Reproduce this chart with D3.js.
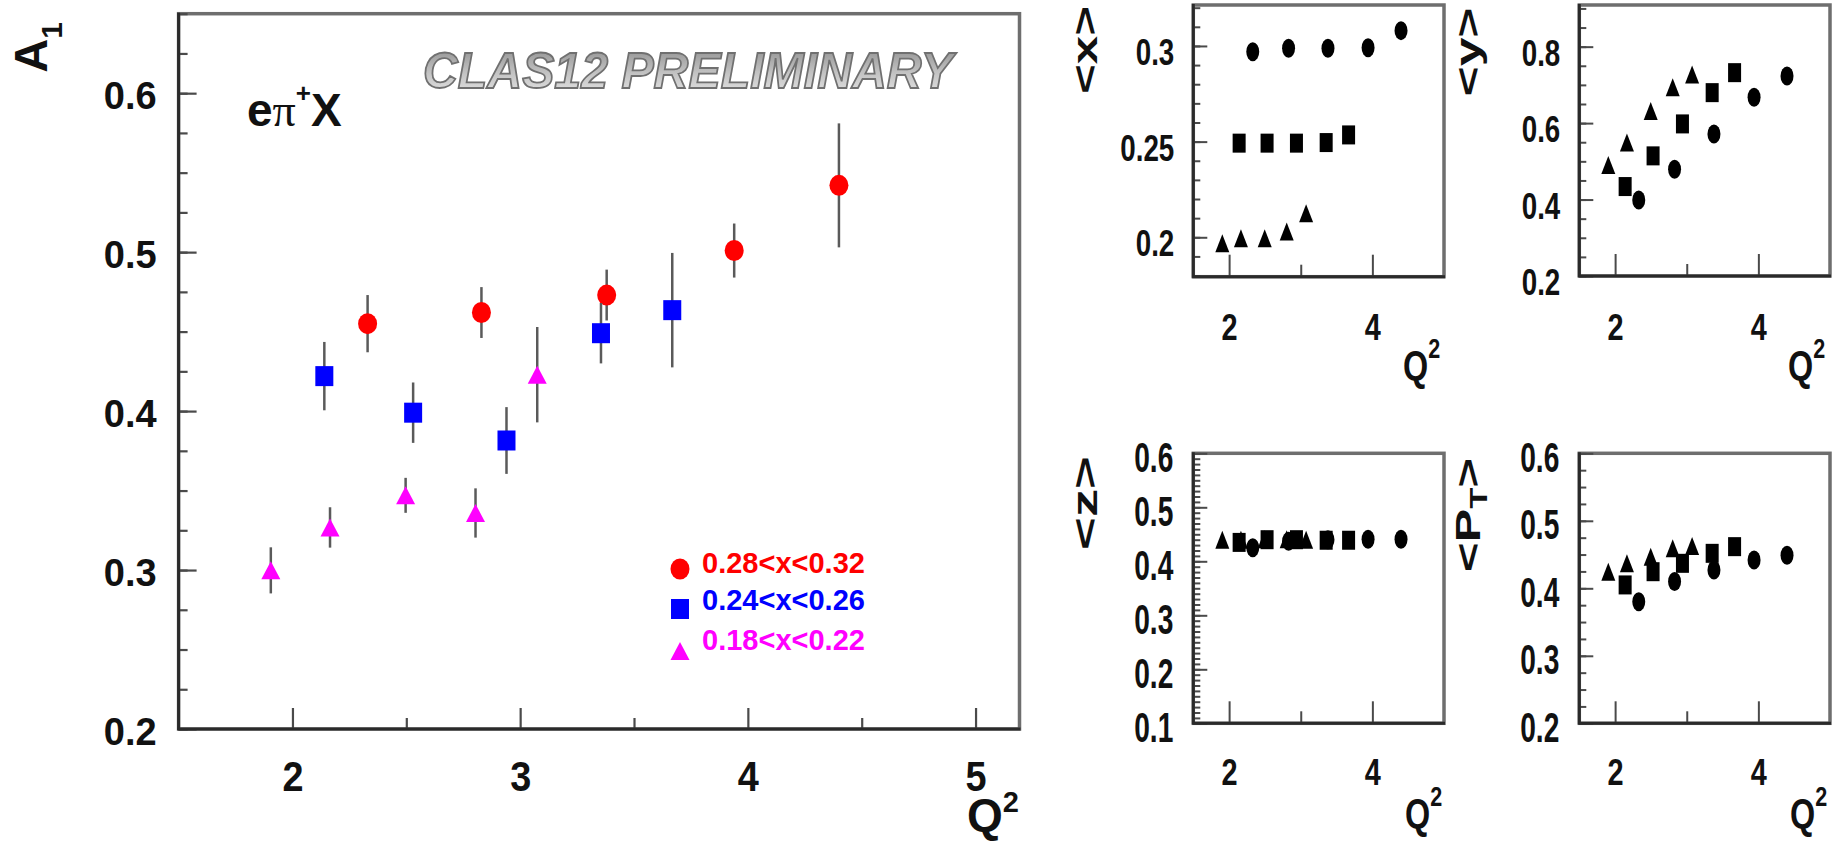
<!DOCTYPE html>
<html><head><meta charset="utf-8">
<script src="https://cdn.jsdelivr.net/npm/d3@7"></script>
<style>html,body{margin:0;padding:0;background:#fff;overflow:hidden}svg{display:block}</style>
</head><body><div id="chart"></div>
<script>
// ---------------- data ----------------
const binLabels = ["0.28<x<0.32", "0.24<x<0.26", "0.18<x<0.22"];
const binColors = ["#ff0000", "#0000ff", "#ff00ff"];
const binShapes = ["circle", "square", "triangle"];

const q2Hi  = [2.33, 2.83, 3.38, 3.94, 4.40];
const q2Mid = [2.14, 2.53, 2.94, 3.355, 3.668];
const q2Lo  = [1.905, 2.165, 2.497, 2.804, 3.075];

const a1Hi     = [0.455, 0.462, 0.473, 0.501, 0.542];
const a1HiErr  = [0.018, 0.016, 0.016, 0.017, 0.039];
const a1Mid    = [0.422, 0.399, 0.3815, 0.449, 0.4635];
const a1MidErr = [0.0215, 0.019, 0.021, 0.019, 0.036];
const a1Lo     = [0.2998, 0.3268, 0.347, 0.3359, 0.4229];
const a1LoErr  = [0.0145, 0.0127, 0.011, 0.0155, 0.030];

const meanXHi  = [0.297, 0.2988, 0.2988, 0.2991, 0.308];
const meanXMid = [0.2492, 0.2492, 0.2492, 0.2495, 0.2535];
const meanXLo  = [0.1969, 0.1995, 0.1995, 0.203, 0.2126];

const meanYHi  = [0.399, 0.4795, 0.5717, 0.6677, 0.7234];
const meanYMid = [0.434, 0.5143, 0.5979, 0.6797, 0.732];
const meanYLo  = [0.4907, 0.549, 0.632, 0.694, 0.727];

const meanZHi  = [0.425, 0.437, 0.440, 0.441, 0.441];
const meanZMid = [0.435, 0.440, 0.440, 0.439, 0.439];
const meanZLo  = [0.440, 0.440, 0.441, 0.441, 0.440];

const meanPtHi  = [0.380, 0.410, 0.427, 0.442, 0.449];
const meanPtMid = [0.405, 0.4246, 0.437, 0.4518, 0.4617];
const meanPtLo  = [0.4246, 0.437, 0.4468, 0.4593, 0.4627];

// tick labels
const mainXTicks = [2, 3, 4, 5];
const mainXMinor = [2.5, 3.5, 4.5];
const mainYTicks = [0.2, 0.3, 0.4, 0.5, 0.6];
const smallXTicks = [2, 4];
const smallXMinor = [3];
const xPanelTicks = [0.2, 0.25, 0.3];
const yPanelTicks = [0.2, 0.4, 0.6, 0.8];
const zPanelTicks = [0.1, 0.2, 0.3, 0.4, 0.5, 0.6];
const ptPanelTicks = [0.2, 0.3, 0.4, 0.5, 0.6];

// ---------------- drawing ----------------
const W = 1843, H = 841;
const FONT = "'Liberation Sans', Arial, Helvetica, sans-serif";
const svg = d3.select("#chart").append("svg").attr("width", W).attr("height", H);
svg.append("rect").attr("width", W).attr("height", H).attr("fill", "#fff");

const defs = svg.append("defs");
const grad = defs.append("linearGradient").attr("id", "prelim").attr("x1", 0).attr("y1", 0).attr("x2", 0).attr("y2", 1);
grad.append("stop").attr("offset", "0%").attr("stop-color", "#8a8a8a");
grad.append("stop").attr("offset", "55%").attr("stop-color", "#c4c4c4");
grad.append("stop").attr("offset", "100%").attr("stop-color", "#e8e8e8");

function minorRange(a, b, step) {
  const n = Math.round((b - a) / step);
  return d3.range(n + 1).map(i => +(a + i * step).toFixed(5));
}

function squeeze(sel, f) {
  sel.each(function () {
    const w = this.getComputedTextLength();
    d3.select(this).attr("textLength", w * f).attr("lengthAdjust", "spacingAndGlyphs");
  });
}

function panel(o) {
  const x = d3.scaleLinear().domain(o.xDom).range([o.l, o.r]);
  const y = d3.scaleLinear().domain(o.yDom).range([o.b, o.t]);
  svg.append("rect").attr("x", o.l).attr("y", o.t).attr("width", o.r - o.l).attr("height", o.b - o.t)
    .attr("fill", "none").attr("stroke", "#6e6e6e").attr("stroke-width", o.frameW);

  const gyMin = svg.append("g").attr("transform", `translate(${o.l},0)`)
    .call(d3.axisLeft(y).tickValues(o.yMinor).tickSize(-o.yMinLen).tickFormat(""));
  const gy = svg.append("g").attr("transform", `translate(${o.l},0)`)
    .call(d3.axisLeft(y).tickValues(o.yMajor).tickSize(-o.yMajLen).tickPadding(o.yPad).tickFormat(d => String(d)));
  const gxMin = svg.append("g").attr("transform", `translate(0,${o.b})`)
    .call(d3.axisBottom(x).tickValues(o.xMinor).tickSize(-o.xMinLen).tickFormat(""));
  const gx = svg.append("g").attr("transform", `translate(0,${o.b})`)
    .call(d3.axisBottom(x).tickValues(o.xMajor).tickSize(-o.xMajLen).tickFormat(d => String(d)));

  [gyMin, gy, gxMin, gx].forEach(g => {
    g.select(".domain").remove();
    g.selectAll(".tick line").attr("stroke", "#4a4a4a").attr("stroke-width", o.tickW);
  });
  const yt = gy.selectAll(".tick text").attr("font-family", FONT).attr("font-weight", "bold")
    .attr("font-size", o.yFont).attr("fill", "#111").attr("dy", o.yDy);
  const xt = gx.selectAll(".tick text").attr("font-family", FONT).attr("font-weight", "bold")
    .attr("font-size", o.xFont).attr("fill", "#111").attr("y", o.xOff).attr("dy", 0);
  if (o.sq) squeeze(yt, o.sq);
  if (o.xSq) squeeze(xt, o.xSq);

  svg.append("line").attr("x1", o.l).attr("x2", o.l).attr("y1", o.t - 1).attr("y2", o.b + 1)
    .attr("stroke", "#2a2a2a").attr("stroke-width", o.axisW);
  svg.append("line").attr("x1", o.l - 1).attr("x2", o.r + 1).attr("y1", o.b).attr("y2", o.b)
    .attr("stroke", "#2a2a2a").attr("stroke-width", o.axisW);
  return { x, y };
}

function marker(g, shape, cx, cy, w, h, color) {
  if (shape === "circle") {
    g.append("ellipse").attr("cx", cx).attr("cy", cy).attr("rx", w / 2).attr("ry", h / 2).attr("fill", color);
  } else if (shape === "square") {
    g.append("rect").attr("x", cx - w / 2).attr("y", cy - h / 2).attr("width", w).attr("height", h).attr("fill", color);
  } else {
    g.append("path").attr("d", `M${cx},${cy - h / 2}L${cx + w / 2},${cy + h / 2}L${cx - w / 2},${cy + h / 2}Z`).attr("fill", color);
  }
}

function series(sc, q2, vals, shape, color, size, errs) {
  const g = svg.append("g");
  if (errs) {
    g.selectAll("line.err").data(q2).enter().append("line")
      .attr("x1", (d) => sc.x(d)).attr("x2", (d) => sc.x(d))
      .attr("y1", (d, i) => sc.y(vals[i] - errs[i])).attr("y2", (d, i) => sc.y(vals[i] + errs[i]))
      .attr("stroke", "#5a5a5a").attr("stroke-width", 2.5);
  }
  q2.forEach((d, i) => marker(g, shape, sc.x(d), sc.y(vals[i]), size[0], size[1], color));
}

// Q^2 label as a single text (Q + superscript 2)
function q2Label(x, y, qSize, sSize, dy, sx) {
  const t = svg.append("text").attr("transform", `translate(${x},${y}) scale(${sx},1)`)
    .attr("font-family", FONT).attr("font-weight", "bold").attr("fill", "#111");
  t.append("tspan").attr("font-size", qSize).text("Q");
  t.append("tspan").attr("font-size", sSize).attr("dy", dy).text("2");
}

// ---------- main plot ----------
const main = panel({
  l: 178.6, r: 1019.5, t: 13.7, b: 729,
  xDom: [1.5, 5.193], yDom: [0.2, 0.65],
  yMajor: mainYTicks, yMinor: minorRange(0.2, 0.65, 0.025),
  xMajor: mainXTicks, xMinor: mainXMinor,
  yMajLen: 18, yMinLen: 9, xMajLen: 21, xMinLen: 11,
  yPad: 22, yFont: 38, yDy: "0.4em", xFont: 42, xOff: 62, xSq: 0.9,
  frameW: 3.5, axisW: 3, tickW: 2.2
});
const mainSizes = { circle: [19, 21], square: [18, 20], triangle: [19, 18] };
const mainQ = [q2Hi, q2Mid, q2Lo], mainA = [a1Hi, a1Mid, a1Lo], mainE = [a1HiErr, a1MidErr, a1LoErr];
[0, 1, 2].forEach(k => series(main, mainQ[k], mainA[k], binShapes[k], binColors[k], mainSizes[binShapes[k]], mainE[k]));

// A1 label
const a1 = svg.append("text").attr("transform", "translate(47,22) rotate(-90)").attr("text-anchor", "end")
  .attr("font-family", FONT).attr("font-weight", "bold").attr("fill", "#111");
a1.append("tspan").attr("font-size", 47).text("A");
a1.append("tspan").attr("font-size", 30).attr("dy", 15).text("1");

// Q2 label main
q2Label(967, 831, 46, 29, -19, 1);

// e pi+ X
const epi = svg.append("text").attr("x", 247).attr("y", 126).attr("font-family", FONT).attr("font-weight", "bold")
  .attr("font-size", 46).attr("fill", "#111");
epi.append("tspan").text("e");
epi.append("tspan").attr("font-family", "'Liberation Serif', 'Times New Roman', serif").attr("font-weight", "normal").text("π");
epi.append("tspan").attr("font-size", 26).attr("dy", -24).text("+");
epi.append("tspan").attr("dy", 24).text("X");

// CLAS12 PRELIMINARY
svg.append("text").attr("x", 423).attr("y", 88).attr("font-family", FONT).attr("font-weight", "bold")
  .attr("font-style", "italic").attr("font-size", 50).attr("textLength", 530).attr("lengthAdjust", "spacingAndGlyphs")
  .attr("fill", "url(#prelim)").attr("stroke", "#707070").attr("stroke-width", 1.8).text("CLAS12 PRELIMINARY");

// legend
const legY = [569, 609, 651], legTextY = [573, 610, 650];
binLabels.forEach((lab, k) => {
  const lg = svg.append("g");
  marker(lg, binShapes[k], 680, legY[k], mainSizes[binShapes[k]][0], mainSizes[binShapes[k]][1], binColors[k]);
  svg.append("text").attr("x", 702).attr("y", legTextY[k]).attr("font-family", FONT).attr("font-weight", "bold")
    .attr("font-size", 29).attr("fill", binColors[k]).text(lab);
});

// ---------- small panels ----------
const smallSizes = { circle: [13, 19], square: [13, 19], triangle: [14, 18] };
const smallQ = [q2Hi, q2Mid, q2Lo];

function smallPanel(o, vals, ylab, qPos) {
  const sc = panel(Object.assign({
    xDom: [1.5, 5.0], xMajor: smallXTicks, xMinor: smallXMinor,
    yMajLen: 14, yMinLen: 7, xMajLen: 22, xMinLen: 12,
    frameW: 3.5, axisW: 3, tickW: 2, xFont: 37, xSq: 0.78
  }, o));
  [0, 1, 2].forEach(k => series(sc, smallQ[k], vals[k], binShapes[k], "#000", smallSizes[binShapes[k]], null));
  q2Label(qPos[0], qPos[1], 42, 28, -22, 0.77);
  // rotated y label
  const t = svg.append("text").attr("text-anchor", "middle").attr("font-family", FONT).attr("font-weight", "bold")
    .attr("font-size", 35).attr("fill", "#111");
  ylab.parts.forEach(p => {
    const ts = t.append("tspan").text(p.t);
    if (p.fs) ts.attr("font-size", p.fs);
    if (p.dy) ts.attr("dy", p.dy);
  });
  const nat = t.node().getComputedTextLength();
  t.attr("transform", `translate(${ylab.x},${ylab.y}) rotate(-90) scale(${ylab.len / nat},1)`);
}

smallPanel({ l: 1193.3, r: 1444, t: 5, b: 276.7, yDom: [0.1794, 0.3214],
  yMajor: xPanelTicks, yMinor: minorRange(0.18, 0.32, 0.01),
  yPad: 19, yFont: 37, yDy: "0.5em", xOff: 63, sq: 0.75 },
  [meanXHi, meanXMid, meanXLo],
  { x: 1097, y: 50, len: 88, parts: [{ t: "<x>" }] }, [1403, 380]);

smallPanel({ l: 1579.3, r: 1830, t: 5, b: 276, yDom: [0.2, 0.909],
  yMajor: yPanelTicks, yMinor: minorRange(0.2, 0.9, 0.05),
  yPad: 19, yFont: 37, yDy: "0.5em", xOff: 64, sq: 0.75 },
  [meanYHi, meanYMid, meanYLo],
  { x: 1480, y: 52, len: 89, parts: [{ t: "<y>" }] }, [1788, 380]);

smallPanel({ l: 1193.3, r: 1444, t: 453.3, b: 723.3, yDom: [0.1, 0.6],
  yMajor: zPanelTicks, yMinor: minorRange(0.1, 0.6, 0.01),
  yPad: 20, yFont: 42, yDy: "0.43em", xOff: 62, sq: 0.67 },
  [meanZHi, meanZMid, meanZLo],
  { x: 1097, y: 503, len: 94, parts: [{ t: "<z>" }] }, [1405, 828]);

smallPanel({ l: 1579.3, r: 1830, t: 453.3, b: 723.3, yDom: [0.2, 0.6],
  yMajor: ptPanelTicks, yMinor: minorRange(0.2, 0.6, 0.025),
  yPad: 20, yFont: 42, yDy: "0.43em", xOff: 62, sq: 0.67 },
  [meanPtHi, meanPtMid, meanPtLo],
  { x: 1480, y: 515, len: 114, parts: [{ t: "<P" }, { t: "T", fs: 24, dy: 7 }, { t: ">", fs: 35, dy: -7 }] }, [1790, 828]);
</script>
</body></html>
